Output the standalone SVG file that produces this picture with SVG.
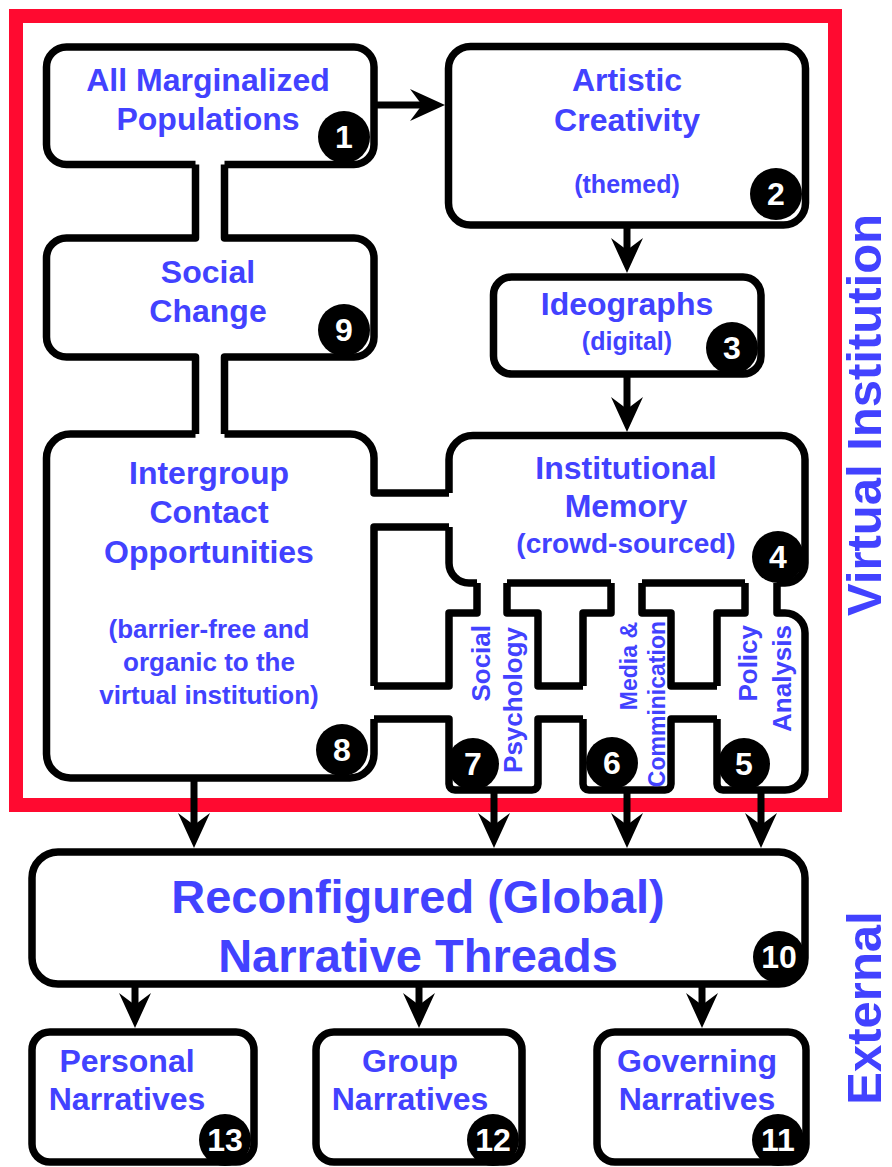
<svg xmlns="http://www.w3.org/2000/svg" width="892" height="1167" viewBox="0 0 892 1167">
<defs>
<style>
.o{fill:none;stroke:#000;stroke-width:7.5;stroke-linejoin:round}
.b{fill:#fff;stroke:#000;stroke-width:7.5}
.t{font-family:"Liberation Sans",Arial,Helvetica,sans-serif;font-weight:bold;fill:#4242ff;text-anchor:middle}
.m{font-size:32px}
.s{font-size:26px}
.v{font-family:"Liberation Sans",Arial,Helvetica,sans-serif;font-weight:bold;fill:#4242ff;text-anchor:end}
.n{font-family:"Liberation Sans",Arial,Helvetica,sans-serif;font-weight:bold;fill:#fff;font-size:32px;text-anchor:middle}
.c{fill:#000}
.a{fill:none;stroke:#000;stroke-width:7;marker-end:url(#ah)}
</style>
<marker id="ah" viewBox="-14 -17 37 34" refX="0" refY="0" markerWidth="37" markerHeight="34" markerUnits="userSpaceOnUse" orient="auto">
<path d="M22,0 L-13,-16 L-1,0 L-13,16 Z" fill="#000"/>
</marker>
</defs>
<rect width="892" height="1167" fill="#fff"/>
<rect id="virtual-institution" x="16" y="16" width="819" height="789" fill="none" stroke="#ff0a30" stroke-width="14"/>

<g id="node1">
<path class="o" d="M195.5,164.5 H66.5 A20 20 0 0 1 46.5,144.5 V67 A20 20 0 0 1 66.5,47 H354 A20 20 0 0 1 374,67 V144.5 A20 20 0 0 1 354,164.5 H224.5"/>
<text class="t m" x="208" y="91">All Marginalized</text>
<text class="t m" x="208" y="130">Populations</text>
<circle class="c" cx="344" cy="137" r="26"/><text class="n" x="344" y="148">1</text>
</g>

<g id="node9">
<path class="o" d="M195.5,164.5 V238 H66.5 A20 20 0 0 0 46.5,258 V337 A20 20 0 0 0 66.5,357 H195.5 V434 M224.5,164.5 V238 H354 A20 20 0 0 1 374,258 V337 A20 20 0 0 1 354,357 H224.5 V434"/>
<text class="t m" x="208" y="283">Social</text>
<text class="t m" x="208" y="322">Change</text>
<circle class="c" cx="344" cy="330" r="26"/><text class="n" x="344" y="341">9</text>
</g>

<g id="node2">
<rect class="b" x="448.5" y="46.5" width="357" height="178.5" rx="22"/>
<text class="t m" x="627" y="91">Artistic</text>
<text class="t m" x="627" y="131">Creativity</text>
<text class="t" x="627" y="193" font-size="25">(themed)</text>
<circle class="c" cx="776" cy="194" r="26"/><text class="n" x="776" y="205">2</text>
</g>

<g id="node3">
<rect class="b" x="493.5" y="277" width="267.5" height="97" rx="18"/>
<text class="t m" x="627" y="315">Ideographs</text>
<text class="t" x="627" y="350" font-size="25">(digital)</text>
<circle class="c" cx="732" cy="348" r="26"/><text class="n" x="732" y="359">3</text>
</g>

<g id="node8">
<path class="o" d="M195.5,434 H70.5 A24 24 0 0 0 46.5,458 V754 A24 24 0 0 0 70.5,778 H350 A24 24 0 0 0 374,754 V719 M374,686 V527 H449 M224.5,434 H350 A24 24 0 0 1 374,458 V493 H449"/>
<text class="t m" x="209" y="484">Intergroup</text>
<text class="t m" x="209" y="523">Contact</text>
<text class="t m" x="209" y="563">Opportunities</text>
<text class="t s" x="209" y="638">(barrier-free and</text>
<text class="t s" x="209" y="671">organic to the</text>
<text class="t s" x="209" y="704">virtual institution)</text>
<circle class="c" cx="342" cy="750" r="26"/><text class="n" x="342" y="761">8</text>
</g>

<g id="node4">
<path class="o" d="M449,493 V459.5 A24 24 0 0 1 473,435.5 H781 A24 24 0 0 1 805,459.5 V563 A20 20 0 0 1 785,583 H777 M449,527 V563 A20 20 0 0 0 469,583 H477 M507,583 H611 M642,583 H745"/>
<text class="t m" x="626" y="479">Institutional</text>
<text class="t m" x="626" y="517">Memory</text>
<text class="t" x="626" y="553" font-size="28">(crowd-sourced)</text>
<circle class="c" cx="778" cy="557" r="26"/><text class="n" x="778" y="568">4</text>
</g>

<g id="node7">
<path class="o" d="M477,583 V613 H449 V686 H374 M374,719 H449 V784 A6 6 0 0 0 455,790 H532 A6 6 0 0 0 538,784 V719 H583 M507,583 V613 H538 V686 H583"/>
<text class="v" font-size="26" transform="translate(490,625) rotate(-90)">Social</text>
<text class="v" font-size="26" transform="translate(522,627) rotate(-90)">Psychology</text>
<circle class="c" cx="473" cy="764" r="26"/><text class="n" x="473" y="775">7</text>
</g>

<g id="node6">
<path class="o" d="M611,583 V613 H583 V686 M583,719 V784 A6 6 0 0 0 589,790 H665 A6 6 0 0 0 671,784 V719 H717 M642,583 V613 H671 V686 H717"/>
<text class="v" font-size="23" transform="translate(637,622) rotate(-90)">Media &amp;</text>
<text class="v" font-size="23" transform="translate(665,621) rotate(-90)">Comminication</text>
<circle class="c" cx="612" cy="763" r="26"/><text class="n" x="612" y="774">6</text>
</g>

<g id="node5">
<path class="o" d="M745,583 V613 H717 V686 M717,719 V784 A6 6 0 0 0 723,790 H785 A20 20 0 0 0 805,770 V633 A20 20 0 0 0 785,613 H777 V583"/>
<text class="v" font-size="26" transform="translate(757,625) rotate(-90)">Policy</text>
<text class="v" font-size="26" transform="translate(791,625) rotate(-90)">Analysis</text>
<circle class="c" cx="744" cy="764" r="26"/><text class="n" x="744" y="775">5</text>
</g>

<g id="node10">
<rect class="b" x="32" y="852" width="773" height="132" rx="26"/>
<text class="t" x="418" y="913" font-size="47">Reconfigured (Global)</text>
<text class="t" x="418" y="972" font-size="47">Narrative Threads</text>
<circle class="c" cx="779" cy="957" r="26"/><text class="n" x="779" y="968">10</text>
</g>

<g id="node13">
<rect class="b" x="32" y="1032" width="222" height="130" rx="18"/>
<text class="t m" x="127" y="1072">Personal</text>
<text class="t m" x="127" y="1110">Narratives</text>
<circle class="c" cx="225" cy="1140" r="26"/><text class="n" x="225" y="1151">13</text>
</g>

<g id="node12">
<rect class="b" x="316" y="1032" width="206" height="130" rx="18"/>
<text class="t m" x="410" y="1072">Group</text>
<text class="t m" x="410" y="1110">Narratives</text>
<circle class="c" cx="493" cy="1140" r="26"/><text class="n" x="493" y="1151">12</text>
</g>

<g id="node11">
<rect class="b" x="597" y="1032" width="209" height="130" rx="18"/>
<text class="t m" x="697" y="1072">Governing</text>
<text class="t m" x="697" y="1110">Narratives</text>
<circle class="c" cx="778" cy="1140" r="26"/><text class="n" x="778" y="1151">11</text>
</g>

<g id="labels">
<text class="t" font-size="49" transform="translate(881,415) rotate(-90)">Virtual Institution</text>
<text class="t" font-size="49" transform="translate(881,1008) rotate(-90)">External</text>
</g>

<g id="connectors">
<path class="a" d="M374,105 H423"/>
<path class="a" d="M627,225 V251"/>
<path class="a" d="M627,374 V410"/>
<path class="a" d="M194,778 V826"/>
<path class="a" d="M494,790 V826"/>
<path class="a" d="M627,790 V826"/>
<path class="a" d="M761,790 V826"/>
<path class="a" d="M135,984 V1006"/>
<path class="a" d="M419,984 V1006"/>
<path class="a" d="M702,984 V1006"/>
</g>
</svg>
